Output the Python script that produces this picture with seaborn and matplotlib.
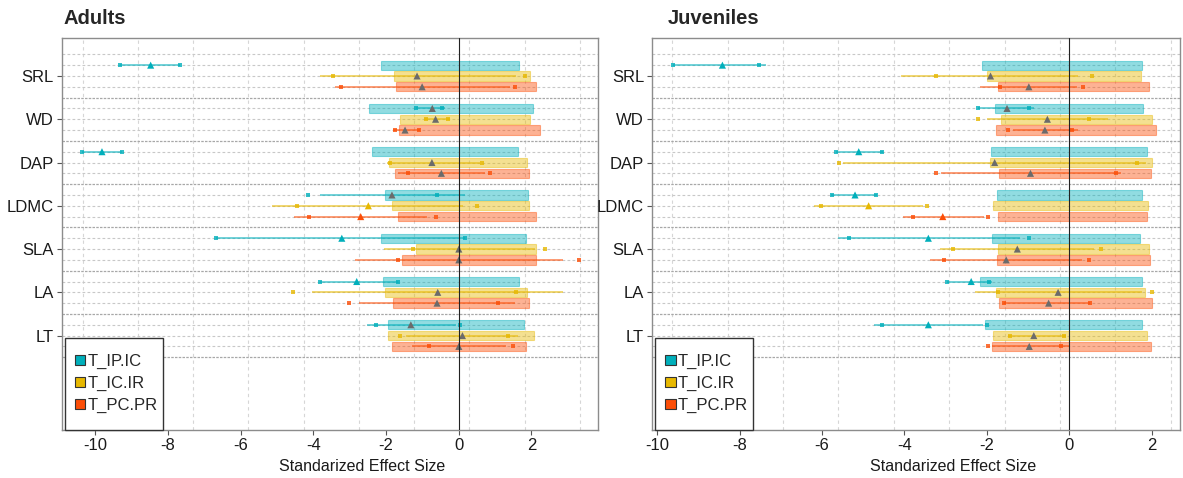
import numpy as np
import pandas as pd
import matplotlib
matplotlib.use("Agg")
from matplotlib import pyplot as plt
from matplotlib.patches import Patch, Rectangle
import seaborn as sns

traits = ["SRL", "WD", "DAP", "LDMC", "SLA", "LA", "LT"]
series = ["T_IP.IC", "T_IC.IR", "T_PC.PR"]
colors = ["#00AFBB", "#E7B800", "#FC4E07"]

# values per trait, in series order (T_IP.IC, T_IC.IR, T_PC.PR)
adults_bar_lo = [-2.15, -1.79, -1.73,
                 -2.47, -1.62, -1.65,
                 -2.40, -1.93, -1.76,
                 -2.03, -1.84, -1.68,
                 -2.13, -1.18, -1.56,
                 -2.09, -2.03, -1.81,
                 -1.95, -1.96, -1.83]
adults_bar_hi = [1.65, 1.96, 2.12,
                 2.05, 1.95, 2.23,
                 1.64, 1.87, 1.93,
                 1.91, 1.92, 2.12,
                 1.84, 2.12, 2.13,
                 1.65, 1.88, 1.93,
                 1.80, 2.08, 1.85]
adults_mean = [-8.48, -1.15, -1.01,
               -0.73, -0.64, -1.48,
               -9.82, -0.74, -0.48,
               -1.84, -2.49, -2.70,
               -3.22, 0.00, 0.00,
               -2.81, -0.58, -0.60,
               -1.32, 0.10, 0.00]
adults_line_lo = [-9.32, -3.83, -3.41,
                  -1.17, -0.96, -1.81,
                  -10.37, -1.99, -1.67,
                  -3.83, -5.15, -4.54,
                  -6.67, -2.06, -2.86,
                  -3.83, -4.04, -2.75,
                  -2.52, -1.44, -1.28]
adults_line_hi = [-7.67, 1.56, 1.40,
                  -0.38, -0.25, -1.08,
                  -9.26, 0.57, 0.71,
                  0.18, 0.12, -0.87,
                  0.17, 2.11, 2.86,
                  -1.66, 2.88, 1.55,
                  -0.07, 1.62, 1.30]
adults_dot_lo = [-9.32, -3.45, -3.24,
                 -1.17, -0.91, -1.77,
                 -10.37, -1.90, -1.40,
                 -4.15, -4.45, -4.12,
                 -6.67, -1.26, -1.68,
                 -3.83, -4.57, -3.03,
                 -2.28, -1.61, -0.83]
adults_dot_hi = [-7.67, 1.82, 1.54,
                 -0.47, -0.29, -1.10,
                 -9.26, 0.64, 0.85,
                 -0.60, 0.50, -0.63,
                 0.17, 2.38, 3.30,
                 -1.66, 1.56, 1.07,
                 0.04, 1.35, 1.49]

juveniles_bar_lo = [-2.12, -2.00, -1.74,
                    -1.80, -1.66, -1.77,
                    -1.89, -1.92, -1.70,
                    -1.76, -1.85, -1.74,
                    -1.87, -1.73, -1.75,
                    -2.16, -1.78, -1.70,
                    -2.04, -1.86, -1.88]
juveniles_bar_hi = [1.77, 1.75, 1.93,
                    1.79, 2.02, 2.10,
                    1.90, 2.01, 1.98,
                    1.77, 1.91, 1.88,
                    1.71, 1.93, 1.96,
                    1.77, 1.84, 2.00,
                    1.77, 1.89, 1.98]
juveniles_mean = [-8.42, -1.91, -0.98,
                  -1.51, -0.53, -0.59,
                  -5.11, -1.81, -0.94,
                  -5.20, -4.87, -3.07,
                  -3.42, -1.26, -1.53,
                  -2.38, -0.27, -0.50,
                  -3.42, -0.86, -0.97]
juveniles_line_lo = [-9.63, -4.08, -2.17,
                     -2.21, -1.99, -1.37,
                     -5.67, -5.50, -3.12,
                     -5.78, -6.20, -4.03,
                     -5.62, -3.14, -3.37,
                     -2.97, -2.29, -1.58,
                     -4.75, -1.49, -1.88]
juveniles_line_hi = [-7.35, 0.22, 0.19,
                     -0.85, 0.93, 0.21,
                     -4.52, 1.87, 1.25,
                     -4.66, -3.55, -2.08,
                     -1.19, 0.59, 0.30,
                     -1.88, 1.77, 0.50,
                     -2.10, -0.09, 0.02]
juveniles_dot_lo = [-9.63, -3.23, -1.68,
                    -2.21, -2.21, -1.48,
                    -5.67, -5.60, -3.23,
                    -5.76, -6.03, -3.80,
                    -5.34, -2.83, -3.04,
                    -2.97, -1.72, -1.58,
                    -4.54, -1.43, -1.98]
juveniles_dot_hi = [-7.54, 0.55, 0.34,
                    -0.98, 0.47, 0.07,
                    -4.55, 1.65, 1.14,
                    -4.68, -3.46, -1.96,
                    -0.98, 0.76, 0.48,
                    -1.95, 2.02, 0.50,
                    -1.99, -0.13, -0.21]


def make_frame(bar_lo, bar_hi, mean, line_lo, line_hi, dot_lo, dot_hi):
    df = pd.DataFrame({
        "trait": np.repeat(traits, len(series)),
        "series": series * len(traits),
        "bar_lo": bar_lo, "bar_hi": bar_hi, "mean": mean,
        "line_lo": line_lo, "line_hi": line_hi,
        "dot_lo": dot_lo, "dot_hi": dot_hi,
    })
    t_idx = df["trait"].map({t: i for i, t in enumerate(traits)})
    s_idx = df["series"].map({s: i for i, s in enumerate(series)})
    df["y"] = 4 * t_idx + s_idx + 1
    outside = (df["mean"] < df["bar_lo"]) | (df["mean"] > df["bar_hi"])
    df["mark"] = np.where(outside, df["series"], "ns")
    return df


adults = make_frame(adults_bar_lo, adults_bar_hi, adults_mean, adults_line_lo,
                    adults_line_hi, adults_dot_lo, adults_dot_hi)
juveniles = make_frame(juveniles_bar_lo, juveniles_bar_hi, juveniles_mean,
                       juveniles_line_lo, juveniles_line_hi,
                       juveniles_dot_lo, juveniles_dot_hi)

sns.set_theme(style="white")
plt.rcParams["font.family"] = ["Liberation Sans", "DejaVu Sans"]
plt.rcParams["axes.unicode_minus"] = False

pal = dict(zip(series, colors))
mark_pal = dict(pal, ns="#6b6b6b")


def draw_panel(ax, df, xlim, grid_x):
    n_slots = 4 * len(traits)
    for gx in grid_x:
        ax.axvline(gx, color="#d6d6d6", lw=0.8, ls=(0, (3, 3)), zorder=0)
    for k in range(n_slots + 1):
        if k % 4 == 0 and k > 0:
            ax.axhline(k, color="#a8a8a8", lw=0.9, ls=(0, (2, 1)), zorder=0)
        else:
            ax.axhline(k, color="#c8c8c8", lw=0.8, ls=(0, (2.5, 2)), zorder=0)

    for s in series:
        d = df[df["series"] == s]
        ax.barh(d["y"], d["bar_hi"] - d["bar_lo"], left=d["bar_lo"], height=0.86,
                color=pal[s], alpha=0.43, edgecolor=pal[s], lw=0.8, zorder=2)
        ax.hlines(d["y"], d["line_lo"], d["line_hi"], color=pal[s], lw=1.3,
                  alpha=0.6, zorder=3)
        dots = pd.concat([d[["dot_lo", "y"]].rename(columns={"dot_lo": "x"}),
                          d[["dot_hi", "y"]].rename(columns={"dot_hi": "x"})])
        sns.scatterplot(data=dots, x="x", y="y", color=pal[s], s=6, marker="s",
                        linewidth=0, alpha=0.8, ax=ax, zorder=4, legend=False)

    sns.scatterplot(data=df, x="mean", y="y", hue="mark", palette=mark_pal,
                    marker="^", s=26, linewidth=0, ax=ax, zorder=5, legend=False)
    ax.axvline(0, color="#222222", lw=0.8, zorder=6)

    ax.set_xlim(*xlim)
    ax.set_ylim(34.68, -1.51)
    ax.set_yticks([4 * i + 2 for i in range(len(traits))])
    ax.set_yticklabels(traits)
    ax.set_xticks(range(-10, 3, 2))
    ax.set_ylabel("")
    ax.set_xlabel("Standarized Effect Size", fontsize=11.5, color="#1a1a1a")
    ax.tick_params(axis="both", bottom=True, left=True, length=3.5, width=0.8,
                   color="#555555", labelcolor="#1a1a1a", pad=2.5)
    ax.tick_params(axis="y", labelsize=12)
    ax.tick_params(axis="x", labelsize=12)
    for sp in ax.spines.values():
        sp.set_color("#8c8c8c")
        sp.set_linewidth(1.0)

    # legend box drawn separately so its size follows the reference
    w_ax = ax.get_position().width * 1183
    h_ax = ax.get_position().height * 478
    box = Rectangle((3 / w_ax, 0.0), 98 / w_ax, 92 / h_ax, transform=ax.transAxes,
                    facecolor="white", edgecolor="#333333", lw=1.0, zorder=9,
                    clip_on=False)
    ax.add_patch(box)
    handles = [Patch(facecolor=c, edgecolor="#333333", lw=0.8, label=s)
               for s, c in zip(series, colors)]
    leg = ax.legend(handles=handles, loc="center",
                    bbox_to_anchor=((3 + 51) / w_ax, 46 / h_ax),
                    borderaxespad=0, borderpad=0, frameon=False, fontsize=12,
                    handlelength=0.65, handleheight=0.56, handletextpad=0.12,
                    labelspacing=0.42)
    leg.set_zorder(10)


fig = plt.figure(figsize=(11.83, 4.78), dpi=100)
ax_a = fig.add_axes([62 / 1183, 48.5 / 478, 536 / 1183, 391.5 / 478])
ax_j = fig.add_axes([652.4 / 1183, 48.5 / 478, 527.6 / 1183, 391.5 / 478])

draw_panel(ax_a, adults, (-10.92, 3.83), np.arange(-10.35, 3.6, 1.52))
draw_panel(ax_j, juveniles, (-10.12, 2.69), np.arange(-9.64, 2.6, 1.345))

ax_a.xaxis.set_label_coords(0.56, -0.095)
ax_j.xaxis.set_label_coords(0.57, -0.095)
for ax in (ax_a, ax_j):
    ax.xaxis.label.set_verticalalignment("center")

fig.text(64 / 1183, 1 - 18 / 478, "Adults", fontsize=14.5, fontweight="bold",
         va="center", ha="left")
fig.text(668 / 1183, 1 - 18 / 478, "Juveniles", fontsize=14.5, fontweight="bold",
         va="center", ha="left")

fig.savefig("out.png", dpi=100)
